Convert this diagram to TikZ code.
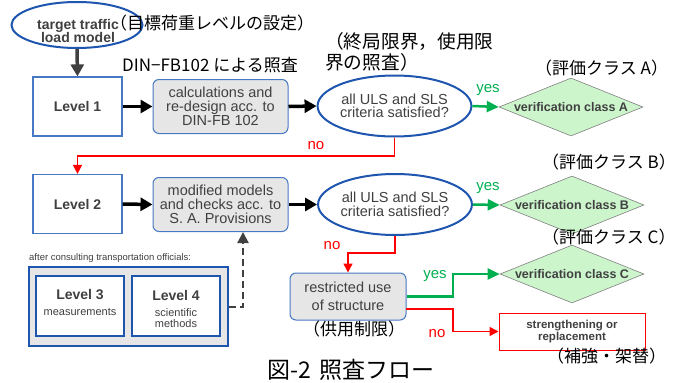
\documentclass[tikz,border=0pt]{standalone}
\usepackage{fontspec}
\setmainfont{Liberation Sans}
\newfontfamily\jp{Noto Sans CJK JP}
\usetikzlibrary{shapes.geometric,arrows.meta}

\definecolor{dblue}{RGB}{30,85,175}
\definecolor{lblue}{RGB}{70,120,195}
\definecolor{boxgray}{RGB}{230,230,230}
\definecolor{tgray}{RGB}{64,64,64}
\definecolor{lgreen}{RGB}{204,245,204}
\definecolor{ygreen}{RGB}{0,176,80}
\definecolor{nred}{RGB}{255,0,0}
\newcommand{\fsz}[2]{\fontsize{#1}{#2}\selectfont}

\begin{document}
\begin{tikzpicture}[x=1pt,y=-1pt,
  levelbox/.style={draw=lblue,line width=1.2pt,fill=white,minimum width=89pt,minimum height=59pt,inner sep=0pt,font=\bfseries\fsz{14}{16},text=tgray},
  procbox/.style={draw=lblue,line width=1pt,fill=boxgray,rounded corners=6pt,minimum width=135pt,minimum height=54pt,inner sep=0pt,align=center,font=\fsz{14.5}{14},text=tgray},
  check/.style={ellipse,draw=dblue,line width=2pt,fill=white,minimum width=147pt,minimum height=61pt,inner sep=0pt,align=center,font=\fsz{14.5}{13.5},text=tgray},
  verdict/.style={diamond,draw=gray,line width=0.6pt,fill=lgreen,minimum width=144pt,minimum height=58pt,inner sep=0pt},
  vtext/.style={font=\bfseries\fsz{12.5}{14},text=tgray,inner sep=0pt},
  jlab/.style={font=\jp\fsz{17}{20},text=black,inner sep=0pt,anchor=west},
  flow/.style={line width=3.5pt,-{Triangle[length=12pt,width=13pt]}},
  yesflow/.style={draw=ygreen,line width=2.5pt,-{Triangle[length=12pt,width=11pt]}},
  noflow/.style={draw=nred,line width=1.5pt,-{Triangle[length=9pt,width=9pt]}},
  yeslab/.style={text=ygreen,font=\fsz{15}{15},inner sep=0pt},
  nolab/.style={text=nred,font=\fsz{15}{15},inner sep=0pt},
  lvtitle/.style={font=\bfseries\fsz{14}{16},text=tgray,inner sep=0pt},
  lvsub/.style={font=\fsz{11}{11},text=tgray,inner sep=0pt,align=center}]

\path[use as bounding box] (0,0) rectangle (681,383);

% target traffic load model
\node[ellipse,draw=dblue,line width=2pt,fill=white,minimum width=131pt,minimum height=46pt,inner sep=0pt] (tgt) at (77,25) {};
\node[font=\bfseries\fsz{14}{13.5},text=tgray,align=center,inner sep=0pt] (tgtt) at (78,31) {target traffic\\load model};
\node[jlab] (jtgt) at (110,23) {（目標荷重レベルの設定）};

% first row
\node[levelbox] (L1) at (77.5,106.5) {Level 1};
\node[procbox] (P1) at (220.5,106.5) {calculations and\\re-design acc. to\\DIN-FB 102};
\node[check] (E1) at (394.5,106) {all ULS and SLS\\criteria satisfied?};
\node[verdict] (VA) at (571,107) {};
\node[vtext] (VAt) at (571,107) {verification class A};
\node[jlab] (jdin) at (122,65) {DIN−FB102 による照査};
\node[jlab,font=\jp\fsz{18.7}{20.5},align=left] (juls) at (325,52) {（終局限界，使用限\\界の照査）};
\node[jlab] (jA) at (535,68) {（評価クラス A）};

\draw[flow,draw=tgray] (tgt.south) -- (L1.north);
\draw[flow] (L1.east) -- (P1.west);
\draw[flow] (P1.east) -- (E1.west);
\draw[yesflow] (E1.east) -- (VA.west);
\node[yeslab] (y1) at (488,90) {yes};

% no from first check to Level 2
\coordinate (n1) at (394.5,156);
\node[levelbox] (L2) at (77.5,204) {Level 2};
\draw[noflow] (E1.south) -- (n1) -| (L2.north);
\node[nolab] (no1) at (316,146) {no};

% second row
\node[procbox] (P2) at (220.5,204.5) {modified models\\and checks acc. to\\S. A. Provisions};
\node[check] (E2) at (395,204.5) {all ULS and SLS\\criteria satisfied?};
\node[verdict] (VB) at (572,205) {};
\node[vtext] (VBt) at (572,205) {verification class B};
\node[jlab] (jB) at (542,162) {（評価クラス B）};
\draw[flow] (L2.east) -- (P2.west);
\draw[flow] (P2.east) -- (E2.west);
\draw[yesflow] (E2.east) -- (VB.west);
\node[yeslab] (y2) at (488,188) {yes};

% restricted use
\node[procbox,minimum width=116pt,minimum height=47pt,font=\fsz{14.5}{17.5}] (R) at (348,296.5) {restricted use\\of structure};
\node[jlab] (jR) at (303,329) {（供用制限）};
\coordinate (n2) at (395,253);
\draw[noflow] (E2.south) -- (n2) -| (R.north);
\node[nolab] (no2) at (332,246) {no};

\node[verdict] (VC) at (572,274) {};
\node[vtext] (VCt) at (572,274) {verification class C};
\node[jlab] (jC) at (542,237) {（評価クラス C）};
\coordinate (yc) at (453,296.5);
\draw[yesflow] (R.east) -- (yc) |- (VC.west);
\node[yeslab] (y3) at (435,276) {yes};

\node[draw=nred,line width=1pt,fill=white,minimum width=146pt,minimum height=37pt,inner sep=0pt,align=center,font=\bfseries\fsz{11.5}{12},text=tgray] (S) at (572,331.5) {strengthening or\\replacement};
\node[jlab] (jS) at (547,356) {（補強・架替）};
\coordinate (r1) at (406,309);
\coordinate (r2) at (453,309);
\draw[noflow] (r1) -- (r2) |- (S.west);
\node[nolab] (no3) at (437,334) {no};

% levels 3 and 4
\node[font=\fsz{9.5}{10},text=tgray,inner sep=0pt,anchor=west] (cons) at (29,258) {after consulting transportation officials:};
\node[draw=dblue,line width=2pt,fill=boxgray,minimum width=199pt,minimum height=79pt,inner sep=0pt] (G) at (128.5,306.5) {};
\node[draw=dblue,line width=2pt,fill=white,minimum width=88pt,minimum height=60pt,inner sep=0pt] (L3) at (80,306) {};
\node[draw=dblue,line width=2pt,fill=white,minimum width=88pt,minimum height=60pt,inner sep=0pt] (L4) at (176,306) {};
\node[lvtitle] (L3t) at (80,295) {Level 3};
\node[lvsub] (L3s) at (80,312) {measurements};
\node[lvtitle] (L4t) at (176,295) {Level 4};
\node[lvsub] (L4s) at (176,318) {scientific\\methods};
\coordinate (dm) at (243,307);
\draw[draw=tgray,line width=2pt,dash pattern=on 7pt off 4pt,-{Triangle[length=11pt,width=11pt]}] (G.east |- dm) -- (dm) -- (dm |- P2.south);

% caption
\node[font=\jp\fsz{23}{25},text=black,inner sep=0pt] (cap) at (351,370) {図-2\hspace{9pt}照査フロー};
\end{tikzpicture}
\end{document}
